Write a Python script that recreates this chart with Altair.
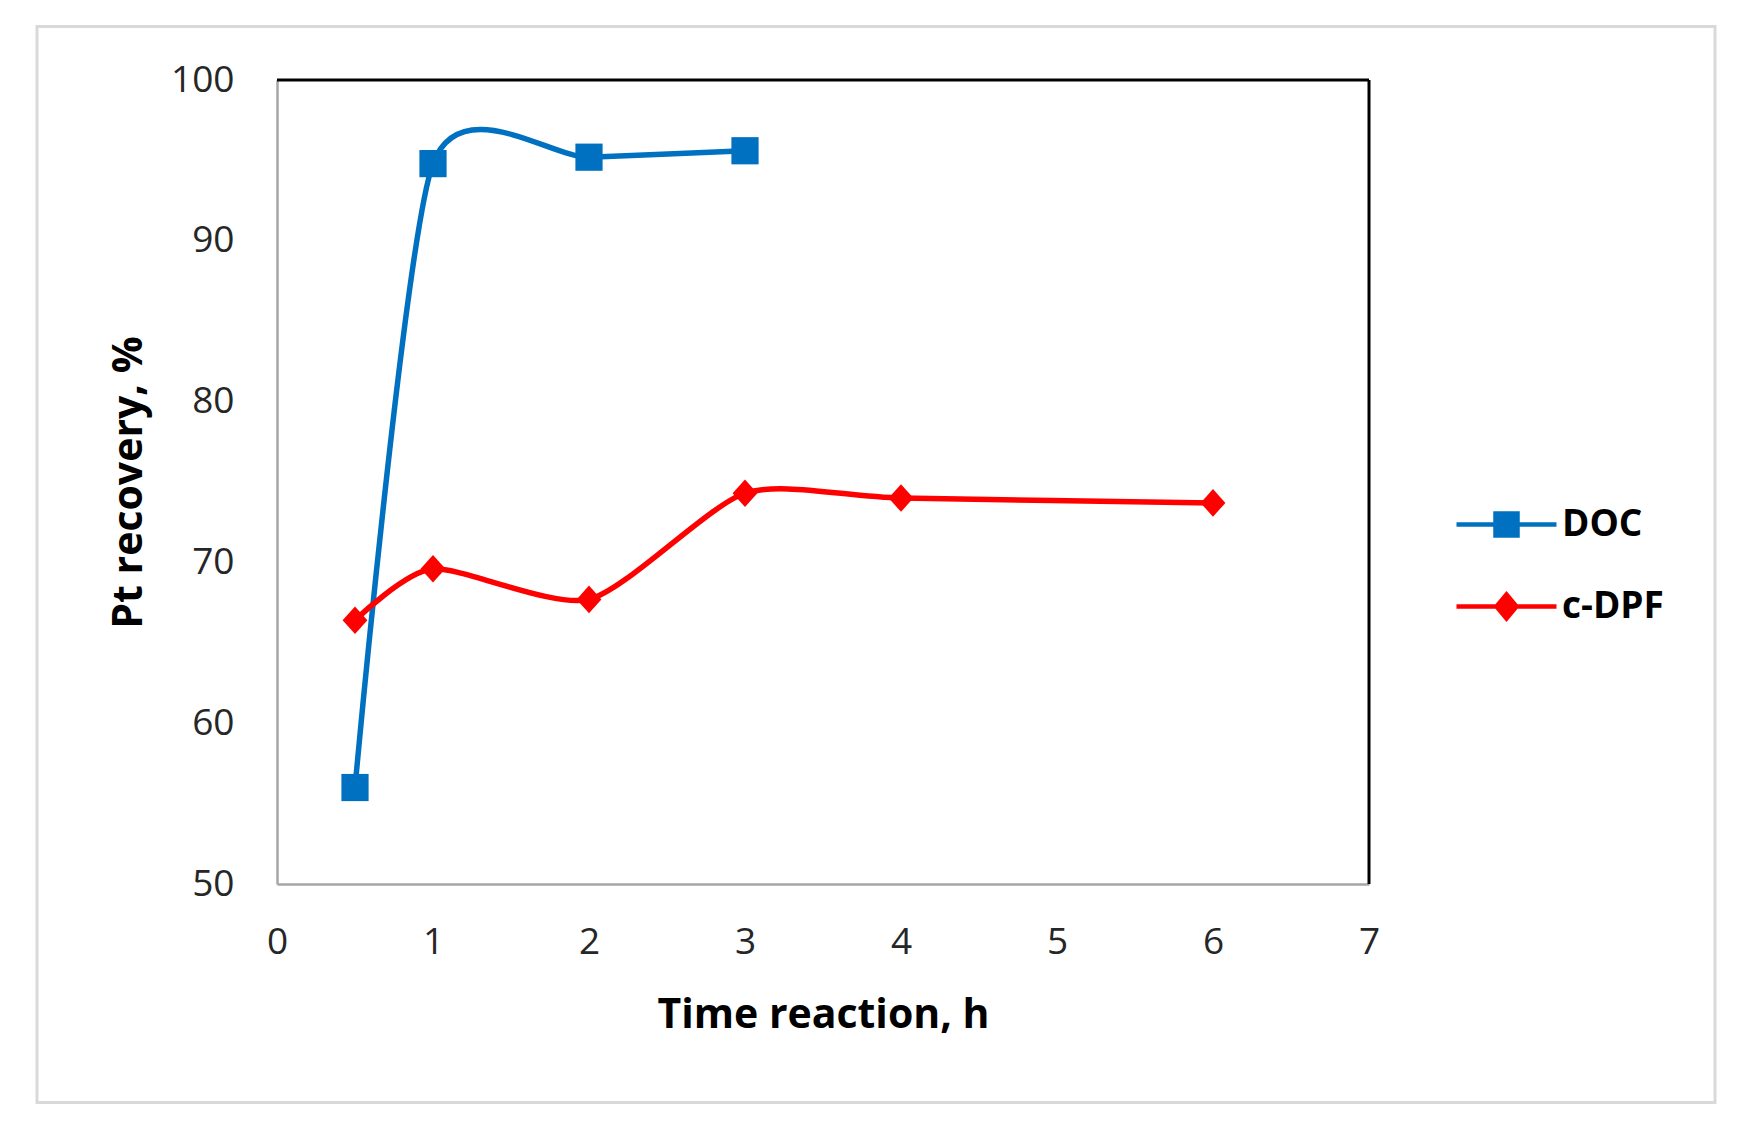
import altair as alt
import pandas as pd

# ---- data ----
series_names = ["DOC", "c-DPF"]
doc_time = [0.5, 1, 2, 3]
doc_recovery = [56.0, 94.8, 95.2, 95.6]
dpf_time = [0.5, 1, 2, 3, 4, 6]
dpf_recovery = [66.4, 69.6, 67.7, 74.3, 74.0, 73.7]
x_domain = [0, 7]
y_domain = [50, 100]
x_ticks = [0, 1, 2, 3, 4, 5, 6, 7]
y_ticks = [50, 60, 70, 80, 90, 100]
colors = ["#0070C0", "#FF0000"]

df = pd.DataFrame({
    "time": doc_time + dpf_time,
    "recovery": doc_recovery + dpf_recovery,
    "series": [series_names[0]] * len(doc_time) + [series_names[1]] * len(dpf_time),
})

FONT = "Open Sans"
x_scale = alt.Scale(domain=x_domain, nice=False, zero=False)
y_scale = alt.Scale(domain=y_domain, nice=False, zero=False)

x_axis = alt.Axis(values=x_ticks, title="Time reaction, h", grid=False, ticks=False, tickSize=0,
                  labelPadding=40, labelFontSize=37, labelFont=FONT, labelColor="#262626",
                  labelFlush=False, titleFont=FONT, titleFontSize=41, titleFontWeight="bold",
                  titleColor="black", titlePadding=35, domainColor="#a6a6a6", domainWidth=2.5)
y_axis = alt.Axis(values=y_ticks, title="Pt recovery, %", grid=False, ticks=False, tickSize=0,
                  labelPadding=43, labelFontSize=37, labelFont=FONT, labelColor="#262626",
                  labelFlush=False, titleFont=FONT, titleFontSize=41, titleFontWeight="bold",
                  titleColor="black", titlePadding=20, domainColor="#a6a6a6", domainWidth=2.5)

X = alt.X("time:Q", scale=x_scale, axis=x_axis)
Y = alt.Y("recovery:Q", scale=y_scale, axis=y_axis)

base = alt.Chart(df)

LW = 5.5
TENSION = 0.3
doc_line = base.transform_filter(alt.datum.series == series_names[0]).mark_line(
    interpolate="cardinal", tension=TENSION, color=colors[0], strokeWidth=LW).encode(x=X, y=Y)
dpf_line = base.transform_filter(alt.datum.series == series_names[1]).mark_line(
    interpolate="cardinal", tension=TENSION, color=colors[1], strokeWidth=LW).encode(x=X, y=Y)
doc_pts = base.transform_filter(alt.datum.series == series_names[0]).mark_point(
    shape="square", filled=True, size=740, color=colors[0], opacity=1).encode(x=X, y=Y)
dpf_pts = base.transform_filter(alt.datum.series == series_names[1]).mark_point(
    shape="M-0.9,0L0,-1L0.9,0L0,1Z", filled=True, size=760, color=colors[1], opacity=1
).encode(x=X, y=Y)

# top and right frame lines of the plot area (black)
border_df = pd.DataFrame({
    "time": [x_domain[0], x_domain[1]],
    "time2": [x_domain[1], x_domain[1]],
    "recovery": [y_domain[1], y_domain[0]],
    "recovery2": [y_domain[1], y_domain[1]],
})
borders = alt.Chart(border_df).mark_rule(color="black", strokeWidth=3).encode(
    x=X, x2="time2:Q", y=Y, y2="recovery2:Q")

# outer figure frame
frame = alt.Chart(pd.DataFrame({"k": [0]})).mark_rect(
    fillOpacity=0, stroke="#d9d9d9", strokeWidth=3).encode(
    x=alt.value(-240), x2=alt.value(1438), y=alt.value(-53.5), y2=alt.value(1022.5))

# legend (from a clipped helper layer)
legend_shapes = ["M-1,0H1M-0.22,-0.22H0.22V0.22H-0.22Z",
                 "M-1,0H1M-0.2,0L0,-0.24L0.2,0L0,0.24Z"]
leg = alt.Legend(title=None, orient="none", legendX=1177, legendY=392, symbolSize=10000,
                 symbolStrokeWidth=4.5, labelFont=FONT, labelFontSize=37, labelFontWeight="bold",
                 labelColor="black", labelOffset=3, rowPadding=9, padding=0)
legend_df = pd.DataFrame({"series": series_names, "time": [-1, -1], "recovery": [60, 60]})
helper = alt.Chart(legend_df).mark_point(filled=True, clip=True, opacity=1).encode(
    x=X, y=Y,
    shape=alt.Shape("series:N", scale=alt.Scale(domain=series_names, range=legend_shapes), legend=leg),
    color=alt.Color("series:N", scale=alt.Scale(domain=series_names, range=colors), legend=leg),
    stroke=alt.Stroke("series:N", scale=alt.Scale(domain=series_names, range=colors), legend=leg),
)

chart = alt.layer(doc_line, frame, dpf_line, borders, doc_pts, dpf_pts, helper).properties(
    width=1092, height=804,
    padding={"left": 27, "top": 17, "right": 10, "bottom": 10},
    background="white",
).configure_view(strokeWidth=0)

chart.save("out.html", embed_options={"renderer": "svg", "actions": False})
